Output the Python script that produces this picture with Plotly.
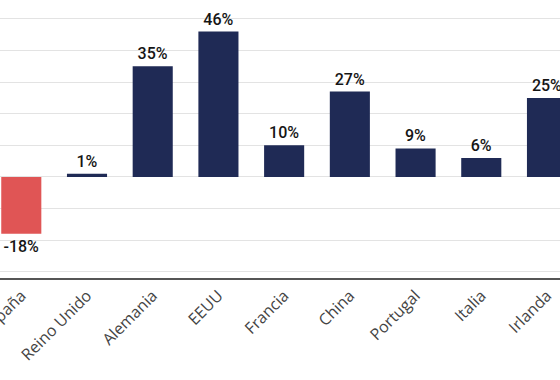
import plotly.graph_objects as go

countries = ["España", "Reino Unido", "Alemania", "EEUU", "Francia", "China", "Portugal", "Italia", "Irlanda"]
values = [-18, 1, 35, 46, 10, 27, 9, 6, 25]
labels = ["-18%", "1%", "35%", "46%", "10%", "27%", "9%", "6%", "25%"]

navy = "#1f2a55"
red = "#e05555"
colors = [red if v < 0 else navy for v in values]

fig = go.Figure(go.Bar(
    x=countries, y=values, marker=dict(color=colors, line=dict(width=0)),
    width=0.61, text=labels, textposition="outside", cliponaxis=False,
    textfont=dict(family="Roboto", size=16, color="#151515", weight=500),
))

fig.update_layout(
    width=560, height=380, margin=dict(l=0, r=0, t=0, b=102),
    paper_bgcolor="white", plot_bgcolor="white", showlegend=False,
    xaxis=dict(range=[-0.324, 8.198], tickangle=-45, showgrid=False,
               showline=True, linecolor="#555555", linewidth=2,
               tickfont=dict(family="Open Sans", size=16, color="#444444", weight=500),
               ticks="", automargin=False, fixedrange=True),
    yaxis=dict(range=[-32, 56], dtick=10, tick0=0, showgrid=True,
               gridcolor="#e3e3e3", gridwidth=1, showticklabels=False,
               zeroline=True, zerolinecolor="#e3e3e3", zerolinewidth=1,
               automargin=False),
)

fig.write_html("out.html")
